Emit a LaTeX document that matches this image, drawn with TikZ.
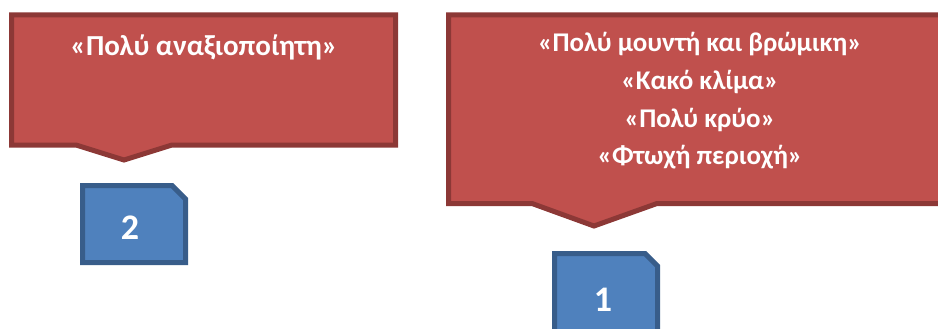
\documentclass[tikz,border=0pt]{standalone}
\usepackage{fontspec}
\setmainfont{Carlito}
\usetikzlibrary{positioning}

\definecolor{calloutred}{HTML}{C0504D}
\definecolor{calloutedge}{HTML}{8C3836}
\definecolor{tabblue}{HTML}{4F81BD}
\definecolor{tabedge}{HTML}{385D8A}

\begin{document}
\begin{tikzpicture}[x=1pt,y=-1pt,
    callout/.style={fill=calloutred,draw=calloutedge,line width=5pt,line join=miter},
    tab/.style={fill=tabblue,draw=tabedge,line width=5pt,line join=miter},
    quote/.style={text=white,font=\fontsize{27pt}{37.7pt}\selectfont\bfseries,align=center},
    digit/.style={text=white,font=\fontsize{36pt}{40pt}\selectfont\bfseries}]
        \useasboundingbox (0,0) rectangle (938,329);
        \clip (0,0) rectangle (938,329);

        % left callout
        \draw[callout] (11.5,15) -- (395.5,15) -- (395.5,145) -- (172,145) -- (124,160)
            -- (76,145) -- (11.5,145) -- cycle;
        \node (waste) at (204,47) [quote,font=\fontsize{29pt}{37.7pt}\selectfont\bfseries] {«Πολύ αναξιοποίητη»};

        % right callout
        \draw[callout] (448.5,15) -- (945,15) -- (945,203.5) -- (657,203.5) -- (594,226)
            -- (532,203.5) -- (448.5,203.5) -- cycle;
        \node (dirty) at (700,101) [quote] {«Πολύ μουντή και βρώμικη»\\«Κακό κλίμα»\\«Πολύ κρύο»\\«Φτωχή περιοχή»};

        % tabs
        \draw[tab] (82.5,185.5) -- (172,185.5) -- (185.5,199) -- (185.5,262.5) -- (82.5,262.5) -- cycle;
        \node (two) at (130,228) [digit] {2};

        \draw[tab] (554.5,253.5) -- (645,253.5) -- (657.5,266) -- (657.5,340) -- (554.5,340) -- cycle;
        \node (one) at (603,300) [digit] {1};
\end{tikzpicture}
\end{document}
